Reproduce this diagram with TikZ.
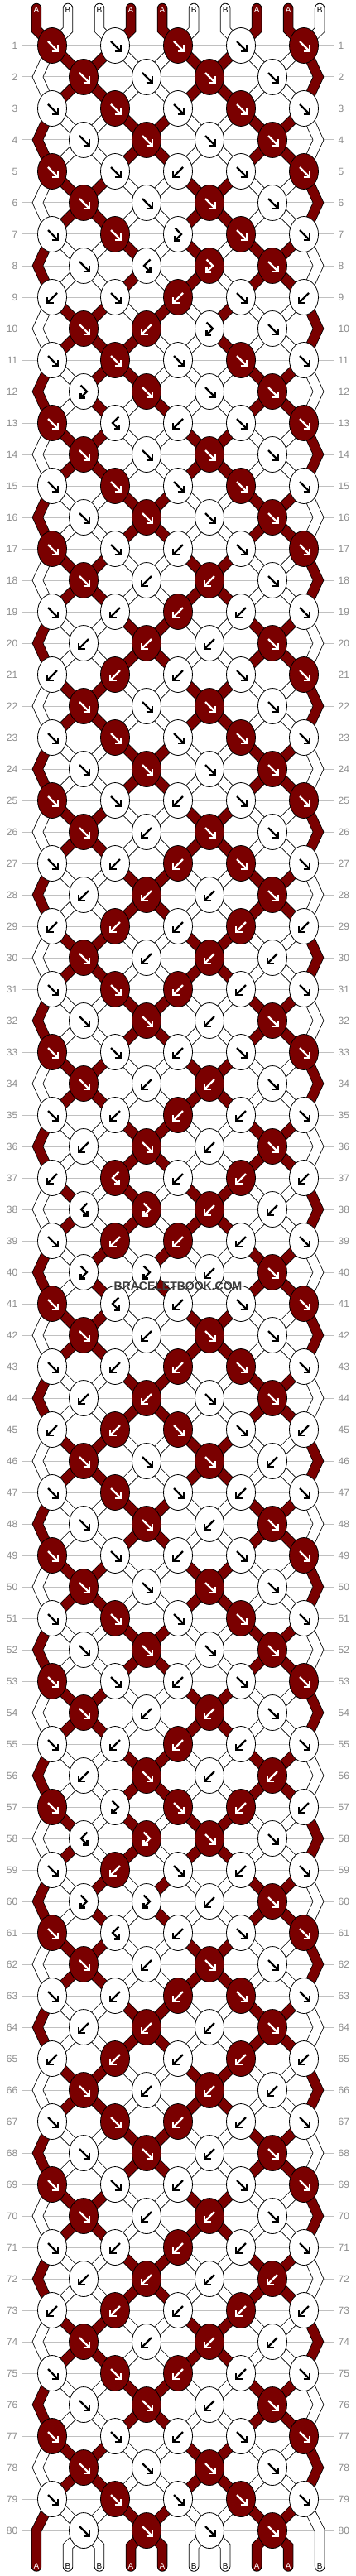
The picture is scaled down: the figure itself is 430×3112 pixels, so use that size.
\documentclass[tikz,border=0pt]{standalone}
\usepackage{fontspec}
\setmainfont{Liberation Sans}
\definecolor{kd}{RGB}{122,0,0}
\colorlet{strA}{kd}
\colorlet{strB}{white}
\definecolor{rowgray}{RGB}{192,192,192}
\definecolor{numgray}{RGB}{140,140,140}
\definecolor{wmgray}{RGB}{60,60,60}
\tikzset{
  bando/.style={draw=black,line width=12.4pt,line cap=round,line join=miter},
  bandf/.style={draw=str#1,line width=10.8pt,line cap=round,line join=miter},
  rowline/.style={draw=rowgray,line width=1pt},
  rownum/.style={text=numgray,font=\fontsize{12}{12}\selectfont,inner sep=0pt},
  knotshape/.style={draw=black,line width=0.8pt},
  glyph/.style={line width=2.3pt,line cap=butt,line join=miter},
  endlabel/.style={font=\fontsize{10}{10}\selectfont,inner sep=0pt},
  watermark/.style={font=\bfseries\fontsize{14}{14}\selectfont,text=wmgray,inner sep=0pt}
}
\def\stA{A,B,B,A,A,B,B,A,A,B}
\def\stB{B,A,A,B,B,A,A,B,B,A}
\def\stC{A,B,B,A,B,A,B,A,A,B}
\def\stD{B,A,A,B,A,B,A,B,B,A}
\def\stE{B,A,A,A,B,B,A,B,B,A}
\def\stF{A,B,A,A,B,B,B,A,A,B}
\def\stG{A,B,A,B,A,B,B,A,A,B}
\def\stH{B,A,B,A,B,A,A,B,B,A}
\def\statelist{stA,stB,stB,stA,stA,stB,stB,stC,stC,stD,stE,stF,stG,stB,stB,stA,stA,stB,stB,stA,stA,stB,stB,stA,stA,stB,stB,stA,stA,stB,stB,stA,stA,stB,stB,stA,stA,stH,stH,stG,stG,stB,stB,stA,stA,stB,stB,stA,stA,stB,stB,stA,stA,stB,stB,stA,stA,stH,stH,stG,stG,stB,stB,stA,stA,stB,stB,stA,stA,stB,stB,stA,stA,stB,stB,stA,stA,stB,stB,stA,stA}
\def\knotrows{%
{Fd,Fw,Fd,Fw,Fd},{Fd,Fw,Fd,Fw},{Fw,Fd,Fw,Fd,Fw},{Fw,Fd,Fw,Fd},%
{Fd,Fw,Bw,Fw,Fd},{Fd,Fw,Fd,Fw},{Fw,Fd,Pw,Fd,Fw},{Fw,Qw,Pd,Fd},%
{Bw,Fw,Bd,Fw,Bw},{Fd,Bd,Pw,Fw},{Fw,Fd,Fw,Fd,Fw},{Pw,Fd,Fw,Fd},%
{Fd,Qw,Bw,Fw,Fd},{Fd,Fw,Fd,Fw},{Fw,Fd,Fw,Fd,Fw},{Fw,Fd,Fw,Fd},%
{Fd,Fw,Bw,Fw,Fd},{Fd,Bw,Bd,Fw},{Fw,Bw,Bd,Bw,Fw},{Bw,Bd,Bw,Fd},%
{Bw,Bd,Bw,Fw,Fd},{Fd,Fw,Fd,Fw},{Fw,Fd,Fw,Fd,Fw},{Fw,Fd,Fw,Fd},%
{Fd,Fw,Bw,Fw,Fd},{Fd,Bw,Fd,Fw},{Fw,Bw,Bd,Fd,Fw},{Bw,Bd,Bw,Fd},%
{Bw,Bd,Bw,Bd,Bw},{Fd,Bw,Bd,Bw},{Fw,Fd,Bd,Bw,Fw},{Fw,Fd,Bw,Fd},%
{Fd,Fw,Bw,Fw,Fd},{Fd,Bw,Bd,Fw},{Fw,Bw,Bd,Bw,Fw},{Bw,Fd,Bw,Fd},%
{Bw,Qd,Bw,Bd,Bw},{Qw,Pd,Bd,Bw},{Fw,Bd,Bd,Bw,Fw},{Pw,Pw,Bw,Fd},%
{Fd,Qw,Bw,Fw,Fd},{Fd,Bw,Fd,Fw},{Fw,Bw,Bd,Fd,Fw},{Bw,Bd,Fw,Fd},%
{Bw,Bd,Fd,Fw,Bw},{Fd,Fw,Fd,Bw},{Fw,Fd,Fw,Bw,Fw},{Fw,Fd,Bw,Fd},%
{Fd,Fw,Bw,Fw,Fd},{Fd,Fw,Fd,Fw},{Fw,Fd,Fw,Fd,Fw},{Fw,Fd,Fw,Fd},%
{Fd,Fw,Bw,Fw,Fd},{Fd,Bw,Bd,Fw},{Fw,Bw,Bd,Bw,Fw},{Bw,Fd,Bw,Bd},%
{Fd,Pw,Fd,Bd,Bw},{Qw,Pd,Fd,Fw},{Fw,Bd,Fw,Bw,Fw},{Pw,Pw,Bw,Fd},%
{Fd,Qw,Bw,Fw,Fd},{Fd,Bw,Fd,Fw},{Fw,Bw,Bd,Fd,Fw},{Bw,Bd,Bw,Fd},%
{Bw,Bd,Bw,Bd,Bw},{Fd,Bw,Bd,Bw},{Fw,Fd,Bd,Bw,Fw},{Fw,Fd,Bw,Fd},%
{Fd,Fw,Bw,Fw,Fd},{Fd,Bw,Bd,Fw},{Fw,Bw,Bd,Bw,Fw},{Bw,Bd,Bw,Bd},%
{Bw,Bd,Bw,Bd,Bw},{Fd,Bw,Bd,Bw},{Fw,Fd,Bd,Bw,Fw},{Fw,Fd,Bw,Fd},%
{Fd,Fw,Bw,Fw,Fd},{Fd,Fw,Fd,Fw},{Fw,Fd,Fw,Fd,Fw},{Fw,Fd,Fw,Fd}}
\newcommand\getx[3]{\ifodd#2\relax\pgfmathsetmacro#1{{63,63,139,139,215,215,291,291,367,367}[#3]}\else\pgfmathsetmacro#1{{45.5,101,101,177,177,253,253,329,329,384.5}[#3]}\fi}
\def\parseknot#1#2\relax{\def\kt{#1}\def\kcol{#2}}
\newcommand\drawbands[1]{%
 \foreach \sn [count=\rr from 0] in \statelist {%
  \edef\cur{\csname\sn\endcsname}%
  \foreach \sc [count=\ii from 0] in \cur {%
    \pgfmathsetmacro\xs{44+38.02*\ii}%
    \ifnum\rr=0
      \getx\xb{1}{\ii}%
      \draw[#1=\sc] (\xs,10) -- (\xs,36) -- (\xb,55);
    \else\ifnum\rr=80
      \ifnum\ii=0 \else\ifnum\ii=9 \else
        \getx\xa{80}{\ii}%
        \draw[#1=\sc] (\xa,3057) -- (\xs,3076) -- (\xs,3100.5);
      \fi\fi
    \else
      \pgfmathtruncatemacro\rn{\rr+1}%
      \pgfmathsetmacro\ya{55+38*(\rr-1)}%
      \pgfmathsetmacro\yb{55+38*\rr}%
      \getx\xa{\rr}{\ii}%
      \getx\xb{\rn}{\ii}%
      \ifnum\ii=0 \def\edgeflag{1}\else\ifnum\ii=9 \def\edgeflag{1}\else\def\edgeflag{0}\fi\fi
      \if\edgeflag1
        \ifodd\rr\relax
          \ifnum\rr=79
            \draw[#1=\sc] (\xa,\ya) -- (\xs,3057) -- (\xs,3100.5);
          \else
            \pgfmathsetmacro\yc{55+38*(\rr+1)}%
            \draw[#1=\sc] (\xa,\ya) -- (\xb,\yb) -- (\xa,\yc);
          \fi
        \fi
      \else
        \draw[#1=\sc] (\xa,\ya) -- (\xb,\yb);
      \fi
    \fi\fi
  }%
 }%
}
\begin{document}
\begin{tikzpicture}[x=1pt,y=-1pt]
\useasboundingbox (0,0) rectangle (430,3112);
\fill[white] (0,0) rectangle (430,3112);
% row lines and numbers
\foreach \rr in {1,...,80} {%
  \pgfmathsetmacro\ly{55+38*(\rr-1)}%
  \draw[rowline] (26,\ly) -- (404,\ly);
  \node[rownum,anchor=east] (ll\rr) at (21.5,\ly) {\rr};
  \node[rownum,anchor=west] (lr\rr) at (408.5,\ly) {\rr};
}
% strings
\drawbands{bando}
\drawbands{bandf}
% knots
\foreach \row [count=\rr] in \knotrows {%
  \pgfmathsetmacro\ky{55+38*(\rr-1)}%
  \foreach \kn [count=\kk from 0] in \row {%
    \ifodd\rr\relax\pgfmathsetmacro\kx{215+76*(\kk-2)}\else\pgfmathsetmacro\kx{215+76*(\kk-1.5)}\fi
    \expandafter\parseknot\kn\relax
    \if d\kcol \def\fc{kd}\def\ac{white}\else\def\fc{white}\def\ac{black}\fi
    \draw[knotshape,fill=\fc] (\kx,\ky) ellipse [x radius=17.5, y radius=21.5];
    \begin{scope}[shift={(\kx,\ky)},shift={(0.5,0.5)}]
      \if F\kt
        \draw[glyph,draw=\ac] (-5.5,-5.5) -- (5.6,5.6);
        \draw[glyph,draw=\ac] (-1,6.5) -- (6.5,6.5) -- (6.5,-1);
      \fi
      \if B\kt
        \draw[glyph,draw=\ac] (5.5,-5.5) -- (-5.6,5.6);
        \draw[glyph,draw=\ac] (1,6.5) -- (-6.5,6.5) -- (-6.5,-1);
      \fi
      \if P\kt
        \draw[glyph,draw=\ac] (-4,-8) -- (3.5,-0.5) -- (-3.2,6.2);
        \draw[glyph,draw=\ac] (1.5,7) -- (-4,7) -- (-4,1.5);
      \fi
      \if Q\kt
        \draw[glyph,draw=\ac] (4,-8) -- (-3.5,-0.5) -- (3.2,6.2);
        \draw[glyph,draw=\ac] (-1.5,7) -- (4,7) -- (4,1.5);
      \fi
    \end{scope}
  }%
}
% end labels
\foreach \sc [count=\ii from 0] in \stA {%
  \pgfmathsetmacro\xs{44+38.02*\ii}%
  \if A\sc \def\tc{white}\else\def\tc{black}\fi
  \node[endlabel,text=\tc] (top\ii) at (\xs,12.5) {\sc};
  \node[endlabel,text=\tc] (bot\ii) at (\xs,3100.5) {\sc};
}
\node[watermark] (wm) at (215,1554) {BRACELETBOOK.COM};
\end{tikzpicture}
\end{document}
